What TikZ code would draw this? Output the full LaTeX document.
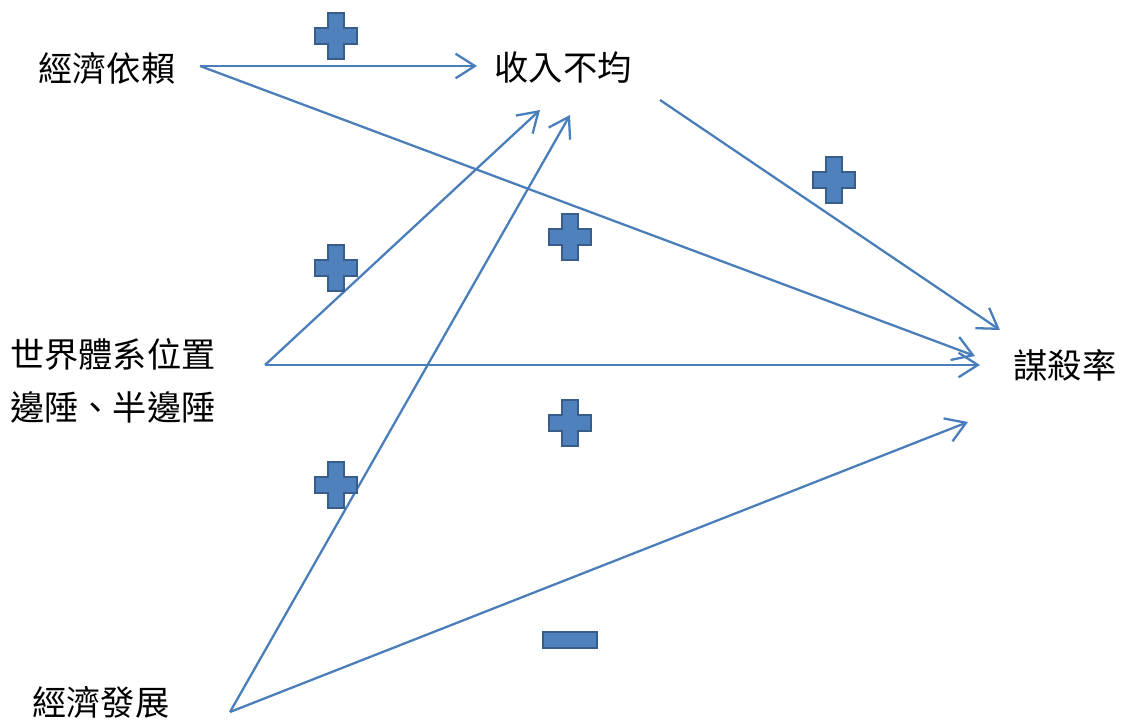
\documentclass[tikz,border=0pt]{standalone}
\usepackage{fontspec}
\newfontfamily\cjk{Noto Sans CJK TC}
\usetikzlibrary{arrows.meta}
\definecolor{linkblue}{HTML}{4A7EBB}
\definecolor{signfill}{HTML}{4F81BD}
\definecolor{signedge}{HTML}{385D8A}
\tikzset{lbl/.style={font=\cjk\fontsize{19.5}{30}\selectfont, inner sep=0pt, align=left}}
\tikzset{arr/.style={draw=linkblue, line width=1.3pt, -{Straight Barb[length=11pt,width=14pt]}}}
\tikzset{plussign/.pic={\filldraw[fill=signfill, draw=signedge, line width=1.4pt]
	(-8,-23) -- (8,-23) -- (8,-8) -- (21,-8) -- (21,8) -- (8,8) -- (8,23)
	-- (-8,23) -- (-8,8) -- (-21,8) -- (-21,-8) -- (-8,-8) -- cycle;}}
\tikzset{minussign/.pic={\filldraw[fill=signfill, draw=signedge, line width=1.4pt]
	(-27,-8) rectangle (27,8);}}
\begin{document}
\begin{tikzpicture}[x=0.02cm, y=-0.02cm]
	\useasboundingbox (0,0) rectangle (1127,722);
	% factors
	\node[lbl] (dep) at (107,68) {經濟依賴};
	\node[lbl] (ineq) at (563,68) {收入不均};
	\node[lbl] (wsp) at (113,381) {世界體系位置\\邊陲、半邊陲};
	\node[lbl] (dev) at (101,702) {經濟發展};
	\node[lbl] (murder) at (1065,365) {謀殺率};
	% line ends
	\coordinate (depout) at (200,66);
	\coordinate (wspout) at (265,365);
	\coordinate (devout) at (230,712);
	\coordinate (ineqout) at (660,100);
	\coordinate (ineqinA) at (477,66);
	\coordinate (ineqinB) at (540,110);
	\coordinate (ineqinC) at (570,115);
	\coordinate (murderinA) at (1000,330);
	\coordinate (murderinB) at (975,356);
	\coordinate (murderinC) at (980,365);
	\coordinate (murderinD) at (968,422);
	% paths
	\draw[arr] (depout) -- (ineqinA);
	\draw[arr] (depout) -- (murderinB);
	\draw[arr] (ineqout) -- (murderinA);
	\draw[arr] (wspout) -- (ineqinB);
	\draw[arr] (wspout) -- (murderinC);
	\draw[arr] (devout) -- (ineqinC);
	\draw[arr] (devout) -- (murderinD);
	% signs
	\pic at (336,36) {plussign};
	\pic at (834,180) {plussign};
	\pic at (570,237) {plussign};
	\pic at (336,268) {plussign};
	\pic at (570,423) {plussign};
	\pic at (336,485) {plussign};
	\pic at (570,640) {minussign};
\end{tikzpicture}
\end{document}
